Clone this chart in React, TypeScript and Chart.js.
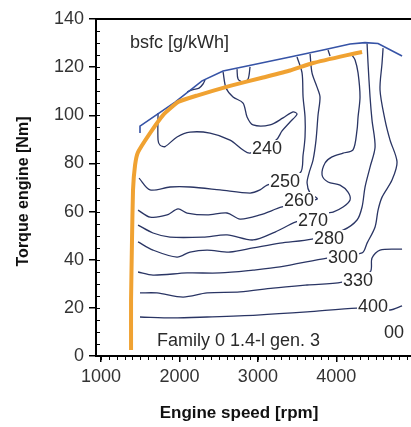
import React, { useEffect, useRef } from 'react';
import { Chart, registerables } from 'chart.js';

Chart.register(...registerables);

// Axis ticks
const xTicks = [1000, 2000, 3000, 4000];
const yTicks = [0, 20, 40, 60, 80, 100, 120, 140];

// Full-load torque curve (upper boundary)
const fullLoadRpm = [1497, 1497, 1944, 2288, 2556, 2862, 3410, 3831, 4175, 4366, 4532, 4838];
const fullLoadNm = [92.6, 95.5, 105.5, 114.3, 118.4, 120.5, 124.2, 127.1, 129.6, 130.2, 129.8, 124.6];

// Operating line (orange)
const opRpm = [1383, 1383, 1395, 1408, 1434, 1472, 1625, 1791, 1982, 2224, 2645, 3066, 3410, 3703, 4137, 4328];
const opNm = [2.5, 23.3, 48.2, 69.0, 79.3, 84.7, 92.6, 100.1, 105.5, 108.2, 112.2, 115.7, 118.6, 121.7, 125.0, 126.3];

// bsfc iso-lines
const c240Rpm = [1727, 1727, 1752, 1816, 1969, 2135, 2390, 2645, 2811, 2900, 3232, 3308, 3410, 3499, 3448, 3321, 3155, 2938, 2862, 2811, 2683, 2594, 2556];
const c240Nm = [100.9, 89.7, 87.6, 87.0, 91.0, 93.0, 92.6, 89.7, 85.6, 84.3, 89.7, 93.5, 97.2, 100.5, 101.4, 98.9, 96.0, 96.0, 99.3, 105.1, 107.6, 111.3, 118.0];

const lobeARpm = [2097, 2173, 2250, 2300, 2326];
const lobeANm = [109.7, 110.7, 111.3, 113.0, 114.7];

const lobeBRpm = [2734, 2747, 2811, 2875, 2900];
const lobeBNm = [119.2, 115.1, 113.8, 115.1, 120.1];

const c250Rpm = [1485, 1625, 1880, 2135, 2517, 2900, 3027, 3117, 3537, 3576, 3601, 3601, 3576, 3563, 3499];
const c250Nm = [73.9, 69.0, 70.2, 70.2, 69.0, 67.7, 69.0, 71.0, 76.0, 83.5, 91.0, 99.3, 107.6, 117.6, 124.2];

const c260Rpm = [1472, 1625, 1842, 1982, 2097, 2352, 2607, 2772, 3027, 3308, 3754, 3665, 3627, 3652, 3703, 3741, 3767, 3792, 3754, 3690, 3665];
const c260Nm = [60.6, 57.7, 58.6, 61.1, 59.4, 58.6, 59.4, 56.9, 58.6, 61.9, 65.2, 67.7, 71.9, 76.0, 81.4, 89.7, 100.1, 107.6, 111.7, 117.6, 125.5];

const c270Rpm = [1472, 1663, 1880, 2300, 2607, 2938, 3219, 3486, 3882, 3958, 4086, 4175, 4149, 4047, 3894, 3818, 3856, 3945, 4086, 4213, 4264, 4277, 4302, 4277, 4239, 4200];
const c270Nm = [54.4, 51.1, 49.4, 49.4, 50.3, 48.2, 51.5, 55.7, 59.4, 59.8, 61.9, 64.8, 68.1, 71.0, 72.3, 75.2, 80.2, 82.7, 84.3, 85.6, 93.9, 99.3, 107.6, 117.6, 123.0, 125.0];

const stubRpm = [3894, 3920];
const stubNm = [127.1, 124.6];

const c280Rpm = [1472, 1663, 1969, 2135, 2352, 2645, 2938, 3282, 3690, 4086, 4264, 4328, 4366, 4430, 4494, 4455, 4430, 4404, 4392];
const c280Nm = [47.4, 44.0, 41.1, 43.2, 44.0, 43.2, 44.9, 46.9, 48.6, 52.3, 56.5, 61.9, 70.2, 78.5, 86.8, 98.0, 107.6, 121.7, 129.8];

const c300Rpm = [1472, 1663, 2097, 2517, 2938, 3282, 3882, 4328, 4392, 4494, 4532, 4583, 4710, 4774, 4685, 4621, 4557, 4583, 4596];
const c300Nm = [34.9, 33.6, 34.5, 34.5, 35.7, 37.0, 40.7, 42.8, 46.9, 53.6, 60.6, 66.0, 73.1, 80.6, 89.7, 98.0, 110.5, 121.7, 127.9];

const c330Rpm = [1497, 1714, 2046, 2352, 2772, 3193, 3627, 4073, 4430, 4455, 4557, 4838];
const c330Nm = [26.2, 26.2, 24.5, 26.2, 26.6, 28.2, 29.5, 30.7, 34.9, 40.7, 44.0, 44.4];

const c400Rpm = [1497, 1918, 2352, 2989, 3627, 4264, 4685, 4838];
const c400Nm = [16.2, 15.8, 16.2, 17.0, 18.3, 19.9, 19.1, 20.8];

// Iso-line labels
const labelTexts = ['240', '250', '260', '270', '280', '300', '330', '400', '00'];
const labelRpm = [3117, 3346, 3525, 3703, 3907, 4086, 4277, 4468, 4736];
const labelNm = [86.4, 72.7, 64.8, 56.5, 49.0, 41.1, 31.6, 20.8, 10.0];

// Free texts
const noteTexts = ['bsfc [g/kWh]', 'Family 0 1.4-l gen. 3'];
const noteRpm = [1370, 1714];
const noteNm = [130.0, 6.2];

const zip = (xs: number[], ys: number[]) => xs.map((x, i) => ({ x, y: ys[i] }));

const CONTOUR = '#2a3564';
const BOUNDARY = '#3653a6';
const ORANGE = '#f0a232';
const FONT = '"Liberation Sans", Arial, sans-serif';

export default function App() {
  const ref = useRef<HTMLCanvasElement | null>(null);

  useEffect(() => {
    if (!ref.current) return;
    const contours: [number[], number[]][] = [
      [c240Rpm, c240Nm],
      [lobeARpm, lobeANm],
      [lobeBRpm, lobeBNm],
      [c250Rpm, c250Nm],
      [c260Rpm, c260Nm],
      [c270Rpm, c270Nm],
      [stubRpm, stubNm],
      [c280Rpm, c280Nm],
      [c300Rpm, c300Nm],
      [c330Rpm, c330Nm],
      [c400Rpm, c400Nm],
    ];

    const datasets: any[] = [
      {
        data: zip(opRpm, opNm),
        showLine: true,
        pointRadius: 0,
        borderColor: ORANGE,
        borderWidth: 4,
        tension: 0.15,
        order: 0,
      },
      {
        data: zip(fullLoadRpm, fullLoadNm),
        showLine: true,
        pointRadius: 0,
        borderColor: BOUNDARY,
        borderWidth: 1.6,
        tension: 0,
        order: 1,
      },
      ...contours.map(([xs, ys]) => ({
        data: zip(xs, ys),
        showLine: true,
        pointRadius: 0,
        borderColor: CONTOUR,
        borderWidth: 1.3,
        tension: 0.3,
        order: 2,
      })),
    ];

    const annot = {
      id: 'annot',
      afterDraw(chart: any) {
        const { ctx, chartArea } = chart;
        const xs = chart.scales.x;
        const ys = chart.scales.y;
        ctx.save();
        // top frame
        ctx.strokeStyle = '#000';
        ctx.lineWidth = 2;
        ctx.beginPath();
        ctx.moveTo(chartArea.left - 1, chartArea.top);
        ctx.lineTo(chartArea.right, chartArea.top);
        ctx.stroke();
        // minor ticks
        ctx.lineWidth = 1;
        ctx.beginPath();
        for (let v = 1000; v <= xs.max; v += 100) {
          const px = Math.round(xs.getPixelForValue(v)) + 0.5;
          ctx.moveTo(px, chartArea.bottom);
          ctx.lineTo(px, chartArea.bottom + 4);
        }
        for (let v = 0; v <= 140; v += 5) {
          const py = Math.round(ys.getPixelForValue(v)) + 0.5;
          ctx.moveTo(chartArea.left, py);
          ctx.lineTo(chartArea.left + 4, py);
        }
        ctx.stroke();

        // iso labels
        ctx.font = `18px ${FONT}`;
        ctx.textAlign = 'center';
        ctx.textBaseline = 'middle';
        labelTexts.forEach((t, i) => {
          const px = xs.getPixelForValue(labelRpm[i]);
          const py = ys.getPixelForValue(labelNm[i]);
          const w = ctx.measureText(t).width;
          ctx.fillStyle = '#fff';
          ctx.fillRect(px - w / 2 - 1, py - 8, w + 2, 16);
          ctx.fillStyle = '#2a2a2a';
          ctx.fillText(t, px, py + 1);
        });

        // notes
        ctx.textAlign = 'left';
        ctx.fillStyle = '#2a2a2a';
        noteTexts.forEach((t, i) => {
          ctx.fillText(t, xs.getPixelForValue(noteRpm[i]), ys.getPixelForValue(noteNm[i]));
        });

        // axis titles
        ctx.fillStyle = '#111';
        ctx.font = `bold 17px ${FONT}`;
        ctx.textAlign = 'center';
        ctx.fillText('Engine speed [rpm]', 239, 413);
        ctx.save();
        ctx.translate(24, (chartArea.top + chartArea.bottom) / 2 + 4);
        ctx.rotate(-Math.PI / 2);
        ctx.font = `bold 16px ${FONT}`;
        ctx.fillText('Torque engine [Nm]', 0, 0);
        ctx.restore();
        ctx.restore();
      },
    };

    const chart = new Chart(ref.current, {
      type: 'scatter',
      data: { datasets },
      options: {
        animation: false,
        responsive: false,
        devicePixelRatio: 1,
        layout: { padding: { top: 19, right: 0, left: 0, bottom: 0 } },
        plugins: { legend: { display: false }, tooltip: { enabled: false } },
        scales: {
          x: {
            type: 'linear',
            min: 936,
            max: 4952,
            afterBuildTicks: (s: any) => {
              s.ticks = xTicks.map((v) => ({ value: v }));
            },
            afterFit: (s: any) => {
              s.height = 71;
            },
            ticks: {
              font: { family: FONT, size: 18 },
              color: '#333',
              padding: 4,
              maxRotation: 0,
              autoSkip: false,
              callback: (v: any) => String(v),
            },
            grid: { drawOnChartArea: false, drawTicks: true, tickLength: 6, color: '#000', lineWidth: 1.5 },
            border: { color: '#000', width: 2 },
          },
          y: {
            type: 'linear',
            min: 0,
            max: 140,
            afterBuildTicks: (s: any) => {
              s.ticks = yTicks.map((v) => ({ value: v }));
            },
            afterFit: (s: any) => {
              s.width = 96;
            },
            ticks: {
              font: { family: FONT, size: 18 },
              color: '#333',
              padding: 5,
              autoSkip: false,
              callback: (v: any) => String(v),
            },
            grid: { drawOnChartArea: false, drawTicks: true, tickLength: 7, color: '#000', lineWidth: 1.5 },
            border: { color: '#000', width: 2 },
          },
        },
      },
      plugins: [annot],
    });
    return () => chart.destroy();
  }, []);

  return (
    <div style={{ position: 'fixed', left: 0, top: 0, width: 411, height: 427, overflow: 'hidden', background: '#fff' }}>
      <canvas ref={ref} width={411} height={427} style={{ display: 'block' }} />
    </div>
  );
}
